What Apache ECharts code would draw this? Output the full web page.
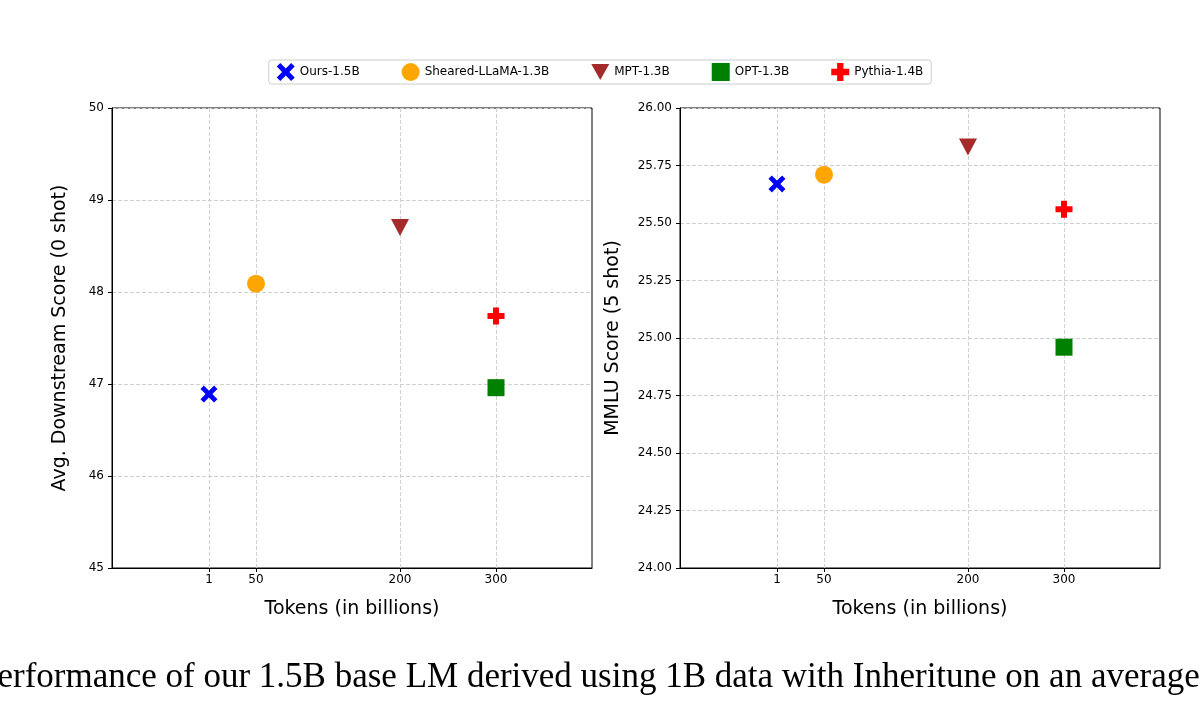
<!DOCTYPE html>
<html><head><meta charset="utf-8">
<script src="https://cdn.jsdelivr.net/npm/echarts@6/dist/echarts.min.js"></script>
<style>html,body{margin:0;padding:0;background:#fff}#c{width:1200px;height:702px}</style>
</head><body><div id="c"></div>
<script>
const models = ['Ours-1.5B','Sheared-LLaMA-1.3B','MPT-1.3B','OPT-1.3B','Pythia-1.4B'];
const tokens = [1,50,200,300,300];
const avgScore = [46.89,48.09,48.70,46.96,47.74];
const mmluScore = [25.67,25.71,25.83,24.96,25.56];
const xTicks = [1,50,200,300];
const colors = ['#0000ff','#ffa500','#a52a2a','#008000','#ff0000'];
const symbols = [
 'path://M0,4 L4,0 L10,6 L16,0 L20,4 L14,10 L20,16 L16,20 L10,14 L4,20 L0,16 L6,10 Z',
 'circle','path://M0,0 L20,0 L10,18 Z','rect',
 'path://M6.5,0 H13.5 V6.5 H20 V13.5 H13.5 V20 H6.5 V13.5 H0 V6.5 H6.5 Z'];
const sizes=[17,18,[18,17],17,17];
const grids=[{left:112,top:108,width:480,height:460,show:true,borderColor:'#000',borderWidth:1},
             {left:680,top:108,width:480,height:460,show:true,borderColor:'#000',borderWidth:1}];
function xAx(i){return {gridIndex:i,type:'value',min:-100,max:400,
 name:'Tokens (in billions)',nameLocation:'middle',nameGap:32,nameTextStyle:{fontSize:19,color:'#000',fontFamily:'DejaVu Sans'},
 axisLine:{show:true,onZero:false,lineStyle:{color:'#000'}},splitLine:{show:false},
 axisTick:{show:true,inside:false,length:4,customValues:xTicks,lineStyle:{color:'#000'}},
 axisLabel:{customValues:xTicks,color:'#000',fontSize:12,fontFamily:'DejaVu Sans',margin:6}};}
function yAx(i,min,max,iv,dec,name){return {gridIndex:i,type:'value',min:min,max:max,interval:iv,
 name:name,nameLocation:'middle',nameGap:i?57:42,nameTextStyle:{fontSize:19,color:'#000',fontFamily:'DejaVu Sans'},
 axisLine:{show:true,onZero:false,lineStyle:{color:'#000'}},
 axisTick:{show:true,length:4,lineStyle:{color:'#000'}},
 splitLine:{show:true,lineStyle:{type:'dashed',color:'#d0d0d0'}},
 axisLabel:{color:'#000',fontSize:12,fontFamily:'DejaVu Sans',formatter:v=>v.toFixed(dec)}};}
const series=[];
[avgScore,mmluScore].forEach((arr,g)=>{
 models.forEach((m,k)=>{
  const s={name:m,type:'scatter',xAxisIndex:g,yAxisIndex:g,symbol:symbols[k],symbolSize:sizes[k],
   itemStyle:{color:colors[k],opacity:1},data:[[tokens[k],arr[k]]],z:5};
  if(k===0){s.markLine={silent:true,symbol:'none',label:{show:false},
    lineStyle:{type:'dashed',color:'#d0d0d0',width:1},data:xTicks.map(v=>({xAxis:v})),z:1};}
  series.push(s);
 });
});
const chart=echarts.init(document.getElementById('c'));
chart.setOption({animation:false,backgroundColor:'#fff',
 grid:grids,xAxis:[xAx(0),xAx(1)],
 yAxis:[yAx(0,45,50,1,0,'Avg. Downstream Score (0 shot)'),yAx(1,24,26,0.25,2,'MMLU Score (5 shot)')],
 legend:{top:60,left:'center',itemGap:42,itemWidth:18,itemHeight:18,borderColor:'#ccc',borderWidth:1,borderRadius:3,padding:[3,8],
  textStyle:{fontSize:12,color:'#000',fontFamily:'DejaVu Sans'},
  data:models.map((m,k)=>({name:m,icon:symbols[k],itemStyle:{color:colors[k]}}))},
 graphic:[{type:'text',left:-22,top:660,style:{text:'Performance of our 1.5B base LM derived using 1B data with Inheritune on an average',
  font:'35px "Liberation Serif"',fill:'#000'}}],
 series:series});
</script></body></html>
